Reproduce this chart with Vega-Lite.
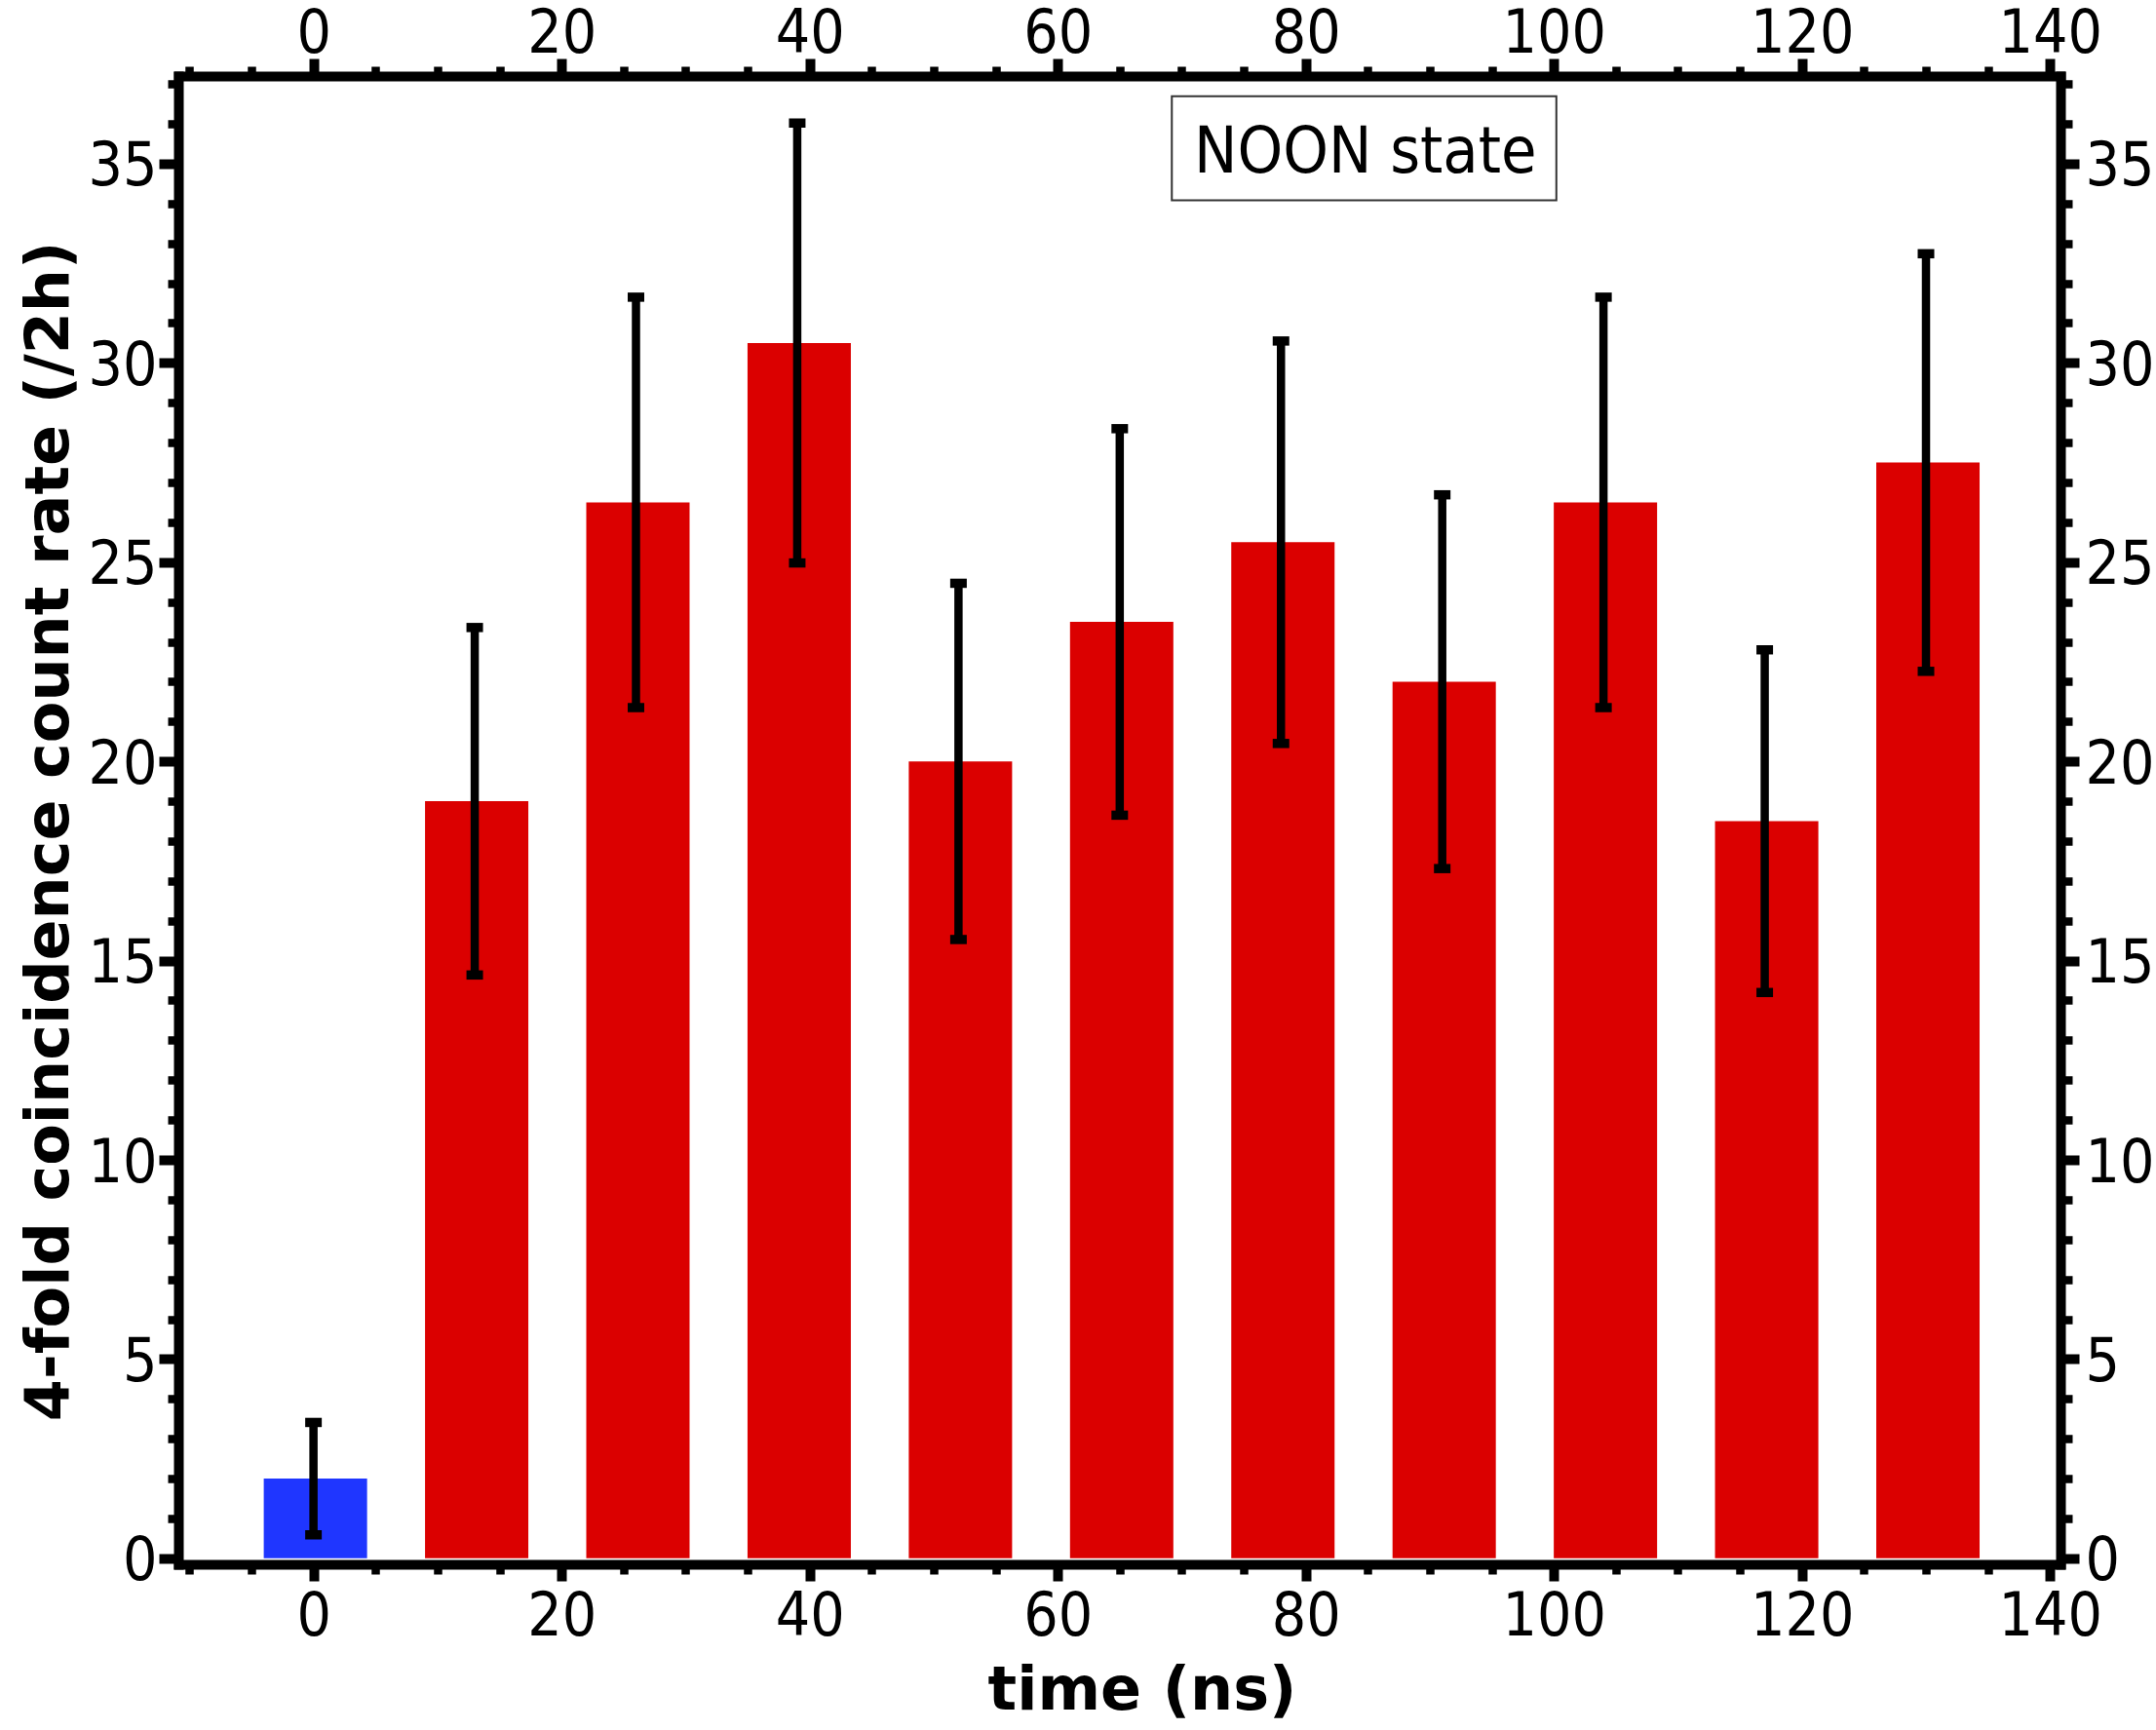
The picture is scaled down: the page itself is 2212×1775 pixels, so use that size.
{
  "$schema": "https://vega.github.io/schema/vega-lite/v6.json",
  "autosize": "none",
  "width": 1931,
  "height": 1527,
  "padding": {"left": 183, "top": 78, "right": 98, "bottom": 170},
  "background": "white",
  "config": {
    "view": {"stroke": null},
    "axis": {
      "grid": false,
      "domainColor": "black",
      "domainWidth": 10,
      "domainCap": "square",
      "tickColor": "black",
      "tickWidth": 10,
      "labelColor": "black",
      "labelFont": "DejaVu Sans Condensed",
      "labelFontSize": 62,
      "labelOverlap": false,
      "labelFlush": false,
      "titleColor": "black",
      "titleFont": "DejaVu Sans",
      "titleFontWeight": "bold",
      "titleFontSize": 62,
      "zindex": 1
    }
  },
  "data": {
    "values": [
      {"t": 0, "rate": 2, "lo": 0.59, "hi": 3.41},
      {"t": 13, "rate": 19, "lo": 14.64, "hi": 23.36},
      {"t": 26, "rate": 26.5, "lo": 21.35, "hi": 31.65},
      {"t": 39, "rate": 30.5, "lo": 24.98, "hi": 36.02},
      {"t": 52, "rate": 20, "lo": 15.53, "hi": 24.47},
      {"t": 65, "rate": 23.5, "lo": 18.65, "hi": 28.35},
      {"t": 78, "rate": 25.5, "lo": 20.45, "hi": 30.55},
      {"t": 91, "rate": 22, "lo": 17.31, "hi": 26.69},
      {"t": 104, "rate": 26.5, "lo": 21.35, "hi": 31.65},
      {"t": 117, "rate": 18.5, "lo": 14.2, "hi": 22.8},
      {"t": 130, "rate": 27.5, "lo": 22.26, "hi": 32.74}
    ]
  },
  "layer": [
    {
      "mark": {"type": "bar", "width": 106, "xOffset": 2},
      "encoding": {
        "x": {
          "field": "t", "type": "quantitative",
          "scale": {"domain": [-10.5, 140.45], "nice": false, "zero": false},
          "axis": {
            "orient": "bottom", "values": [0, 20, 40, 60, 80, 100, 120, 140], "format": "d",
            "tickSize": 17, "labelPadding": 6,
            "title": "time (ns)", "titleX": 988.5, "titleY": 148,
            "titleAlign": "center", "titleBaseline": "alphabetic"
          }
        },
        "y": {
          "field": "rate", "type": "quantitative", "stack": null,
          "scale": {"domain": [-0.15, 37.2], "nice": false, "zero": false},
          "axis": {
            "orient": "left", "values": [0, 5, 10, 15, 20, 25, 30, 35], "format": "d",
            "tickSize": 20, "labelPadding": 2, "labelOffset": 3,
            "title": "4-fold coincidence count rate (/2h)",
            "titleAngle": 270, "titleX": -114, "titleY": 774.5,
            "titleAlign": "center", "titleBaseline": "alphabetic"
          }
        },
        "color": {"condition": {"test": "datum.t === 0", "value": "#1f36ff"}, "value": "#db0000"}
      }
    },
    {
      "mark": {"type": "rule", "color": "black", "strokeWidth": 8.5},
      "encoding": {
        "x": {
          "field": "t", "type": "quantitative",
          "axis": {
            "orient": "top", "values": [0, 20, 40, 60, 80, 100, 120, 140], "format": "d",
            "tickSize": 18, "labelPadding": 7, "labelBaseline": "alphabetic", "title": null
          }
        },
        "y": {
          "field": "lo", "type": "quantitative",
          "axis": {
            "orient": "right", "values": [0, 5, 10, 15, 20, 25, 30, 35], "format": "d",
            "tickSize": 19, "labelPadding": 6, "labelOffset": 3, "title": null
          }
        },
        "y2": {"field": "hi"}
      }
    },
    {
      "mark": {"type": "tick", "orient": "horizontal", "color": "black", "size": 17, "thickness": 9.5, "opacity": 1},
      "encoding": {
        "x": {
          "field": "t", "type": "quantitative",
          "axis": {
            "orient": "bottom", "values": [-10, -5, 5, 10, 15, 25, 30, 35, 45, 50, 55, 65, 70, 75, 85, 90, 95, 105, 110, 115, 125, 130, 135],
            "tickSize": 10, "tickWidth": 8.5, "labels": false, "domain": false, "title": null
          }
        },
        "y": {
          "field": "lo", "type": "quantitative",
          "axis": {
            "orient": "left", "values": [1, 2, 3, 4, 6, 7, 8, 9, 11, 12, 13, 14, 16, 17, 18, 19, 21, 22, 23, 24, 26, 27, 28, 29, 31, 32, 33, 34, 36, 37],
            "tickSize": 11, "tickWidth": 8.5, "labels": false, "domain": false, "title": null
          }
        }
      }
    },
    {
      "mark": {"type": "tick", "orient": "horizontal", "color": "black", "size": 17, "thickness": 9.5, "opacity": 1},
      "encoding": {
        "x": {
          "field": "t", "type": "quantitative",
          "axis": {
            "orient": "top", "values": [-10, -5, 5, 10, 15, 25, 30, 35, 45, 50, 55, 65, 70, 75, 85, 90, 95, 105, 110, 115, 125, 130, 135],
            "tickSize": 10, "tickWidth": 8.5, "labels": false, "domain": false, "title": null
          }
        },
        "y": {
          "field": "hi", "type": "quantitative",
          "axis": {
            "orient": "right", "values": [1, 2, 3, 4, 6, 7, 8, 9, 11, 12, 13, 14, 16, 17, 18, 19, 21, 22, 23, 24, 26, 27, 28, 29, 31, 32, 33, 34, 36, 37],
            "tickSize": 12, "tickWidth": 8.5, "labels": false, "domain": false, "title": null
          }
        }
      }
    },
    {
      "data": {"values": [{"label": "NOON state"}]},
      "mark": {"type": "rect", "fill": "white", "stroke": "#333333", "strokeWidth": 2},
      "encoding": {
        "x": {"datum": 69.2, "type": "quantitative", "axis": null},
        "x2": {"datum": 100.2},
        "y": {"datum": 34.08, "type": "quantitative", "axis": null},
        "y2": {"datum": 36.69}
      }
    },
    {
      "data": {"values": [{"label": "NOON state"}]},
      "mark": {"type": "text", "font": "DejaVu Sans Condensed", "fontSize": 66, "color": "black", "align": "center", "baseline": "alphabetic"},
      "encoding": {
        "x": {"datum": 84.8, "type": "quantitative", "axis": null},
        "y": {"datum": 34.79, "type": "quantitative", "axis": null},
        "text": {"field": "label"}
      }
    }
  ],
  "resolve": {"axis": {"x": "independent", "y": "independent"}}
}
